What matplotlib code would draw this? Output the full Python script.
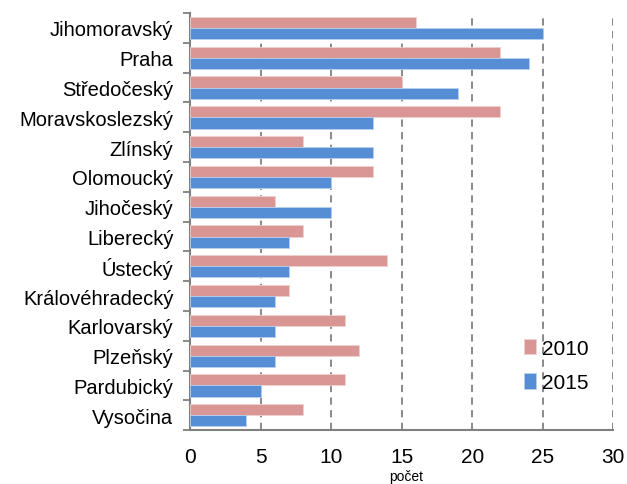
import matplotlib
matplotlib.use("Agg")
import matplotlib.pyplot as plt
import numpy as np

regions = ["Jihomoravský", "Praha", "Středočeský", "Moravskoslezský", "Zlínský",
           "Olomoucký", "Jihočeský", "Liberecký", "Ústecký", "Královéhradecký",
           "Karlovarský", "Plzeňský", "Pardubický", "Vysočina"]
values_2010 = [16, 22, 15, 22, 8, 13, 6, 8, 14, 7, 11, 12, 11, 8]
values_2015 = [25, 24, 19, 13, 13, 10, 10, 7, 7, 6, 6, 6, 5, 4]
x_ticks = [0, 5, 10, 15, 20, 25, 30]

plt.rcParams['font.family'] = ['Liberation Sans', 'DejaVu Sans']

fig = plt.figure(figsize=(6.27, 4.85), dpi=100)
ax = fig.add_axes([0.303, 0.111, 0.675, 0.86])

y = np.arange(len(regions))
h = 0.375
c2010 = "#D99694"
c2015 = "#558ED5"
ax.barh(y - h / 2, values_2010, height=h, color=c2010, edgecolor="#F0D0CF",
        linewidth=0.6, label="2010", zorder=3)
ax.barh(y + h / 2, values_2015, height=h, color=c2015, edgecolor="#B9CFEE",
        linewidth=0.6, label="2015", zorder=3)

ax.set_ylim(len(regions) - 0.5, -0.5)
ax.set_xlim(0, 30)
ax.set_xticks(x_ticks)
ax.set_xticklabels([str(t) for t in x_ticks], fontsize=15)

ax.set_yticks(y)
ax.set_yticklabels(regions, fontsize=14.5)
ax.set_yticks(np.arange(-0.5, len(regions), 1.0), minor=True)
ax.tick_params(axis="y", which="major", length=0, pad=12)
ax.tick_params(axis="y", which="minor", length=5, width=1.3, color="#808080",
               direction="out")
ax.tick_params(axis="x", length=0, pad=12)

for s in ["top", "right"]:
    ax.spines[s].set_visible(False)
for s in ["left", "bottom"]:
    ax.spines[s].set_color("#808080")
    ax.spines[s].set_linewidth(1.5)

ax.grid(axis="x", color="#808080", linestyle=(0, (4, 3)), linewidth=1.3, zorder=0)
ax.set_axisbelow(True)

ax.set_xlabel("počet", fontsize=10)
ax.xaxis.set_label_coords(0.51, -0.092)

fig.legend(loc="center left", bbox_to_anchor=(0.8357, 0.2443), frameon=False,
           fontsize=15, handlelength=0.6, handleheight=0.75, handletextpad=0.25,
           labelspacing=0.75, borderpad=0, borderaxespad=0)

fig.savefig("out.png", dpi=100)
